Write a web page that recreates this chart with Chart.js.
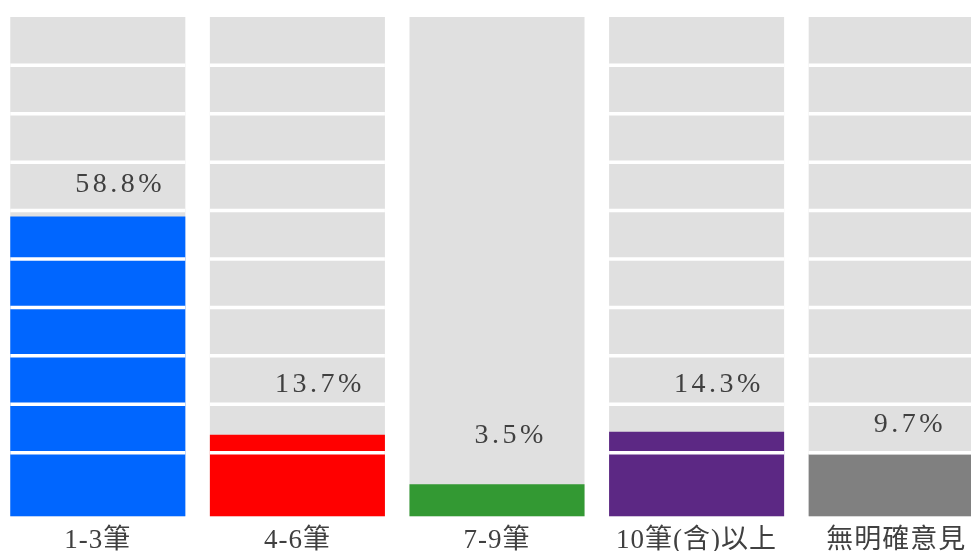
<!DOCTYPE html>
<html>
<head>
<meta charset="utf-8">
<script src="https://cdn.jsdelivr.net/npm/chart.js@4.4.1/dist/chart.umd.min.js"></script>
<style>
     html, body { margin: 0; padding: 0; background: #ffffff; overflow: hidden; }
     #wrap { position: absolute; left: -2px; top: 0; width: 998px; height: 565px; }
</style>
</head>
<body>
<div id="wrap"><canvas id="shareChart"></canvas></div>
<script>
// answer groups along the bottom
const categories = ['1-3筆', '4-6筆', '7-9筆', '10筆(含)以上', '無明確意見'];

// share of answers for each group, in percent
const shares = [58.8, 13.7, 3.5, 14.3, 9.7];

// every column sits on a full 100% track
const tracks = [100, 100, 100, 100, 100];

const barColors = ['#0066ff', '#ff0000', '#339933', '#5c2884', '#808080'];
const trackColor = '#e0e0e0';
const textColor = '#404040';

// the column without white divider lines
const plainColumn = '7-9筆';

// how far each percent label sits above its bar top (px)
const labelLift = [32, 50, 49, 47, 30];

// the value axis starts a little below zero, so bars keep a stub at the bottom
const axisMin = -3.2;
const axisMax = 100.4;

const serif = "'Liberation Serif', 'Times New Roman', 'Noto Sans CJK TC', serif";


// white divider lines across each column at every 10%
const dividers = {
     id: 'dividers',
     afterDatasetsDraw(chart) {
          const ctx = chart.ctx;
          const yScale = chart.scales.y;
          const bars = chart.getDatasetMeta(0).data;
          const steps = yScale.ticks.map(t => t.value).filter(v => v > 0 && v < 100);
          ctx.save();
          ctx.strokeStyle = '#ffffff';
          ctx.lineWidth = 3.5;
          bars.forEach((bar, i) => {
               if (categories[i] == plainColumn) return;
               const half = bar.width / 2;
               steps.forEach(v => {
                    const y = yScale.getPixelForValue(v);
                    ctx.beginPath();
                    ctx.moveTo(bar.x - half, y);
                    ctx.lineTo(bar.x + half, y);
                    ctx.stroke();
               });
          });
          ctx.restore();
     }
};

// percent labels above the coloured bars
const shareLabels = {
     id: 'shareLabels',
     afterDraw(chart) {
          const ctx = chart.ctx;
          const bars = chart.getDatasetMeta(0).data;
          ctx.save();
          ctx.font = '28px ' + serif;
          ctx.letterSpacing = '3.5px';
          ctx.fillStyle = textColor;
          ctx.textAlign = 'left';
          ctx.textBaseline = 'middle';
          bars.forEach((bar, i) => {
               ctx.fillText(shares[i].toFixed(1) + '%', bar.x - 22.5, bar.y - labelLift[i]);
          });
          ctx.restore();
     }
};

// a touch of spacing for the category names
const tickSpacing = {
     id: 'tickSpacing',
     beforeDraw(chart) { chart.ctx.letterSpacing = '1px'; },
     afterDraw(chart) { chart.ctx.letterSpacing = '0px'; }
};

const shareChart = document.getElementById('shareChart').getContext('2d');

new Chart(shareChart, {
     type: 'bar',
     data: {
          labels: categories,
          datasets: [
               {
                    data: shares,
                    backgroundColor: barColors,
                    base: axisMin,
                    order: 1,
                    grouped: false,
                    barPercentage: 0.877,
                    categoryPercentage: 1
               },
               {
                    data: tracks,
                    backgroundColor: trackColor,
                    base: axisMin,
                    order: 2,
                    grouped: false,
                    barPercentage: 0.877,
                    categoryPercentage: 1
               }
          ]
     },
     options: {
          responsive: true,
          maintainAspectRatio: false,
          animation: false,
          layout: {
               padding: { top: 15, bottom: 0, left: 0, right: 0 }
          },
          scales: {
               y: {
                    display: false,
                    min: axisMin,
                    max: axisMax,
                    ticks: { stepSize: 10 }
               },
               x: {
                    grid: { display: false, drawTicks: false },
                    border: { display: false },
                    ticks: {
                         color: textColor,
                         padding: 8,
                         autoSkip: false,
                         maxRotation: 0,
                         font: { family: serif, size: 27 }
                    }
               }
          },
          plugins: {
               legend: { display: false },
               tooltip: { enabled: false }
          }
     },
     plugins: [tickSpacing, dividers, shareLabels]
});
</script>
</body>
</html>
